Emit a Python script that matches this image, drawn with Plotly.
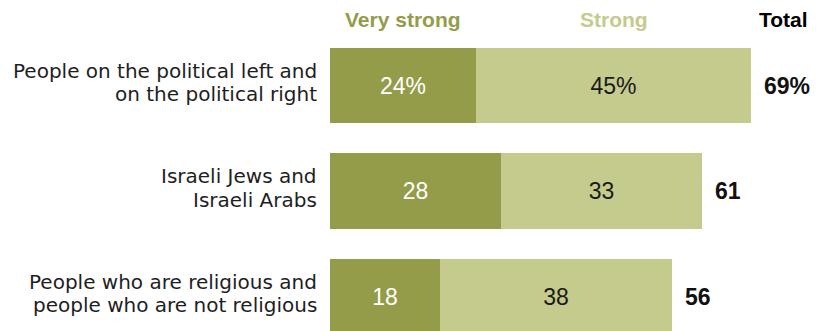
import plotly.graph_objects as go

# Survey groups and the share of strong / very strong perceived conflict
groups = [
    "People on the political left and<br>on the political right",
    "Israeli Jews and<br>Israeli Arabs",
    "People who are religious and<br>people who are not religious",
]
very_strong = [24, 28, 18]
strong = [45, 33, 38]
totals = [69, 61, 56]
series_names = ["Very strong", "Strong", "Total"]

DARK = "#949c49"
LIGHT = "#c5ca8d"
LABEL_FONT = "DejaVu Sans"
NUM_FONT = "Liberation Sans"


def fmt(v, i):
    return f"{v}%" if i == 0 else str(v)


ypos = list(range(len(groups)))

fig = go.Figure()
fig.add_trace(go.Bar(
    y=ypos, x=very_strong, orientation="h", name=series_names[0],
    marker=dict(color=DARK, line=dict(width=0)), width=0.711,
    text=[fmt(v, i) for i, v in enumerate(very_strong)],
    textposition="inside", insidetextanchor="middle", constraintext="none",
    textfont=dict(family=NUM_FONT, size=23, color="white"),
    hoverinfo="skip",
))
fig.add_trace(go.Bar(
    y=ypos, x=strong, orientation="h", name=series_names[1],
    marker=dict(color=LIGHT, line=dict(width=0)), width=0.711,
    text=[fmt(v, i) for i, v in enumerate(strong)],
    textposition="inside", insidetextanchor="middle", constraintext="none",
    textfont=dict(family=NUM_FONT, size=23, color="#1a1a1a"),
    hoverinfo="skip",
))

annotations = []
# Totals to the right of each bar
for i, t in enumerate(totals):
    annotations.append(dict(
        x=t, y=i, xref="x", yref="y", xanchor="left", yanchor="middle",
        xshift=11, text=f"<b>{fmt(t, i)}</b>", showarrow=False,
        font=dict(family=NUM_FONT, size=23, color="#111111"),
    ))

# Group labels, one annotation per line, right aligned left of the bars
for i, g in enumerate(groups):
    lines = g.split("<br>")
    n = len(lines)
    for k, line in enumerate(lines):
        shift = 3 + (n - 1) / 2 * 23.3 - k * 23.3
        annotations.append(dict(
            x=0, y=i, xref="x", yref="y", xanchor="right", yanchor="middle",
            xshift=-11, yshift=shift, text=line, showarrow=False,
            font=dict(family=LABEL_FONT, size=20, color="#1e1e1e"),
        ))

# Column headers above the first row
header_y_shift = 66.5
annotations.append(dict(
    x=very_strong[0] / 2, y=0, xref="x", yref="y", xanchor="center",
    yanchor="middle", yshift=header_y_shift, text=f"<b>{series_names[0]}</b>",
    showarrow=False, font=dict(family=NUM_FONT, size=21, color=DARK),
))
annotations.append(dict(
    x=very_strong[0] + strong[0] / 2, y=0, xref="x", yref="y",
    xanchor="center", yanchor="middle", yshift=header_y_shift,
    text=f"<b>{series_names[1]}</b>", showarrow=False,
    font=dict(family=NUM_FONT, size=21, color=LIGHT),
))
annotations.append(dict(
    x=totals[0], y=0, xref="x", yref="y", xanchor="left", yanchor="middle",
    xshift=6, yshift=header_y_shift, text=f"<b>{series_names[2]}</b>",
    showarrow=False, font=dict(family=NUM_FONT, size=21, color="#000000"),
))

fig.update_layout(
    barmode="stack",
    width=819, height=331,
    margin=dict(l=330, r=0, t=0, b=0),
    paper_bgcolor="white", plot_bgcolor="white",
    showlegend=False,
    bargap=0,
    annotations=annotations,
    xaxis=dict(range=[0, 489 / 6.1], visible=False, fixedrange=True),
    yaxis=dict(range=[2.327, -0.8104], visible=False, fixedrange=True),
)

fig.write_html("out.html", config={"displayModeBar": False})
